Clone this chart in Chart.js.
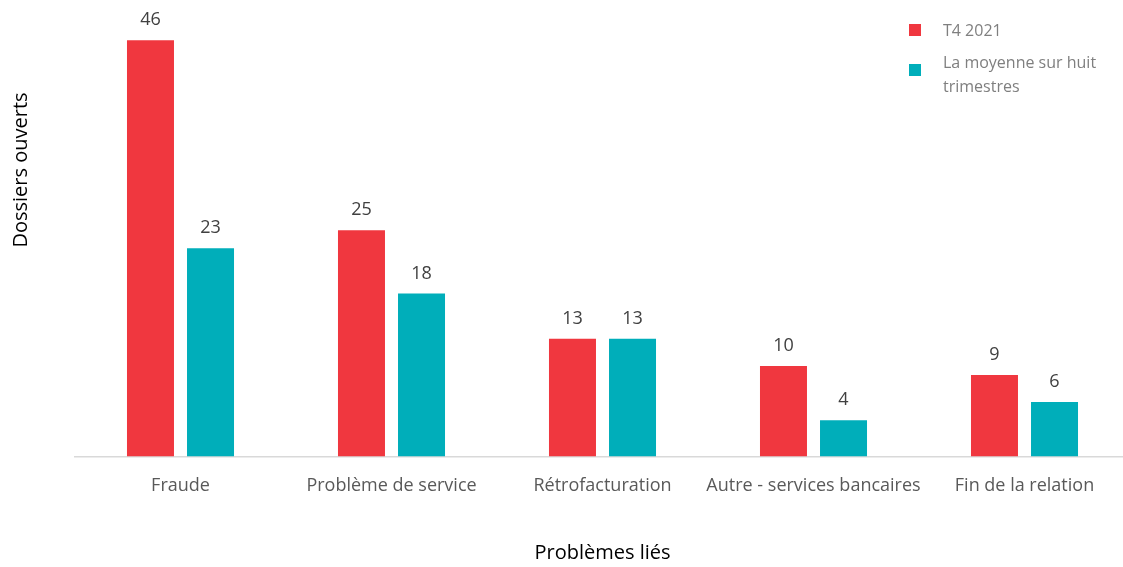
<!DOCTYPE html>
<html>
<head>
<meta charset="utf-8">
<script src="https://cdn.jsdelivr.net/npm/chart.js@4"></script>
<style>
  body { margin: 0; overflow: hidden; background: #fff; font-family: "Open Sans", sans-serif; }
  #wrap { position: relative; width: 1130px; height: 567px; }
  #legend { position: absolute; left: 909px; top: 18px; font-size: 16px; color: #7f7f7f; line-height: 24px; }
  .item { position: relative; padding-left: 34px; margin-bottom: 8px; width: 190px; }
  .sw { position: absolute; left: 0; width: 12px; height: 12px; }
</style>
</head>
<body>
<div id="wrap">
  <canvas id="chart" width="1130" height="567"></canvas>
  <div id="legend">
    <div class="item"><span class="sw" style="background:#F0373F; top:6px"></span>T4 2021</div>
    <div class="item"><span class="sw" style="background:#00AEBA; top:14px"></span>La moyenne sur huit<br>trimestres</div>
  </div>
</div>
<script>
/* --------------- Data --------------------- */
const categories = ["Fraude", "Problème de service", "Rétrofacturation", "Autre - services bancaires", "Fin de la relation"];
const t4_2021 = [46, 25, 13, 10, 9];
const moyenne = [23, 18, 13, 4, 6];
const seriesNames = ["T4 2021", "La moyenne sur huit trimestres"];

/* --------------- Labels above bars + y title --------------------- */
const valueLabels = {
  id: "valueLabels",
  afterDatasetsDraw(chart) {
    const ctx = chart.ctx;
    ctx.save();
    ctx.font = "18px 'Open Sans'";
    ctx.fillStyle = "#404040";
    ctx.textAlign = "center";
    ctx.textBaseline = "bottom";
    chart.data.datasets.forEach((ds, i) => {
      chart.getDatasetMeta(i).data.forEach((bar, j) => {
        ctx.fillText(ds.data[j], bar.x, bar.y - 11);
      });
    });
    // y axis title
    ctx.translate(21, 170);
    ctx.rotate(-Math.PI / 2);
    ctx.font = "20px 'Open Sans'";
    ctx.fillStyle = "#000000";
    ctx.textBaseline = "middle";
    ctx.fillText("Dossiers ouverts", 0, 0);
    ctx.restore();
  }
};

new Chart(document.getElementById("chart"), {
  type: "bar",
  plugins: [valueLabels],
  data: {
    labels: categories,
    datasets: [
      { label: seriesNames[0], data: t4_2021, backgroundColor: "#F0373F" },
      { label: seriesNames[1], data: moyenne, backgroundColor: "#00AEBA" }
    ]
  },
  options: {
    responsive: false,
    animation: false,
    layout: { padding: { left: 75, top: 4, right: 0, bottom: 0 } },
    datasets: { bar: { categoryPercentage: 0.569, barPercentage: 0.783 } },
    plugins: { legend: { display: false }, tooltip: { enabled: false } },
    scales: {
      x: {
        grid: { display: false, drawTicks: false },
        border: { color: "#d9d9d9", width: 1.5 },
        ticks: { color: "#595959", font: { family: "Open Sans", size: 18 }, padding: 19, maxRotation: 0, minRotation: 0, autoSkip: false },
        title: { display: true, text: "Problèmes liés", color: "#000000", font: { family: "Open Sans", size: 20 }, padding: { top: 25, bottom: 2 } }
      },
      y: { display: false, min: 0, max: 50 }
    }
  }
});
</script>
</body>
</html>
